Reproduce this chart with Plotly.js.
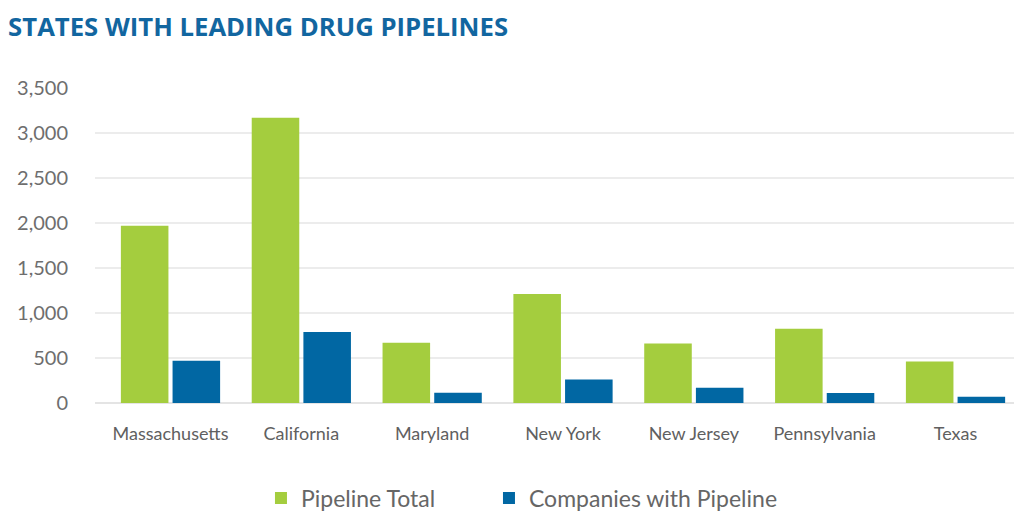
<!DOCTYPE html>
<html>
<head>
<meta charset="utf-8">
<script src="https://cdn.plot.ly/plotly-3.0.1.min.js"></script>
<style>html,body{margin:0;padding:0;background:#fff;}#chart{width:1014px;height:513px;}</style>
</head>
<body>
<div id="chart"></div>
<script>
const states = ["Massachusetts", "California", "Maryland", "New York", "New Jersey", "Pennsylvania", "Texas"];
const pipelineTotal = [1970, 3170, 670, 1210, 660, 825, 460];
const companiesWithPipeline = [470, 790, 115, 260, 170, 110, 70];
const yTickValues = [0, 500, 1000, 1500, 2000, 2500, 3000, 3500];
const yTickLabels = ["0", "500", "1,000", "1,500", "2,000", "2,500", "3,000", "3,500"];

const traces = [
  {type: "bar", name: "Pipeline Total", x: states, y: pipelineTotal,
   marker: {color: "#a4cd3e"}, hoverinfo: "x+y", legend: "legend"},
  {type: "bar", name: "Companies with Pipeline", x: states, y: companiesWithPipeline,
   marker: {color: "#0167a3"}, hoverinfo: "x+y", legend: "legend2"}
];

const legendFont = {size: 23, color: "#666666"};

const layout = {
  width: 1014, height: 513,
  margin: {l: 95, r: 0, t: 88, b: 110, autoexpand: false},
  paper_bgcolor: "#ffffff", plot_bgcolor: "#ffffff",
  font: {family: "Lato, 'Open Sans', sans-serif", color: "#666666"},
  title: {text: "<b>STATES WITH LEADING DRUG PIPELINES</b>", xref: "container", x: 0.008, xanchor: "left",
          yref: "container", y: 0.947, yanchor: "middle",
          font: {family: "'Open Sans', Lato, sans-serif", size: 25.7, color: "#1266a0"}},
  barmode: "group", bargap: 0.21, bargroupgap: 0.08,
  xaxis: {range: [-0.577, 6.447], showgrid: false, zeroline: false, showline: false,
          ticks: "outside", ticklen: 14, tickcolor: "rgba(0,0,0,0)",
          tickfont: {size: 18, color: "#606060"}, fixedrange: true, automargin: false},
  yaxis: {range: [0, 3500], tickvals: yTickValues, ticktext: yTickLabels,
          showgrid: true, gridcolor: "#ececec", gridwidth: 1.5, zeroline: true, zerolinecolor: "#e4e4e4", zerolinewidth: 1.5,
          showline: false, ticks: "outside", ticklen: 22, tickcolor: "rgba(0,0,0,0)",
          tickfont: {size: 20, color: "#6e6e6e"}, fixedrange: true, automargin: false},
  showlegend: true,
  legend: {orientation: "h", x: 0.1806, xanchor: "left", yref: "container", y: 0.029, yanchor: "middle",
           font: legendFont, itemwidth: 30},
  legend2: {orientation: "h", x: 0.4287, xanchor: "left", yref: "container", y: 0.029, yanchor: "middle",
           font: legendFont, itemwidth: 30}
};

Plotly.newPlot("chart", traces, layout, {displayModeBar: false, staticPlot: true});
</script>
</body>
</html>
